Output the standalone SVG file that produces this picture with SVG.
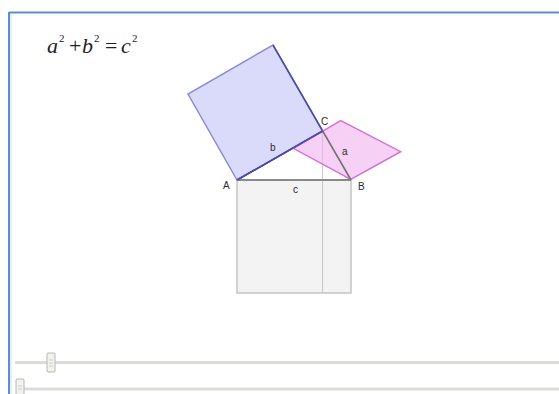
<svg xmlns="http://www.w3.org/2000/svg" width="559" height="394" viewBox="0 0 559 394">
<style>
.lbl{font-family:"Liberation Sans",Arial,sans-serif;font-size:10px;fill:#2a2a2a}
.eq{font-family:"Liberation Serif","Times New Roman",serif;font-style:italic;font-size:22px;fill:#222}
.sup{font-family:"Liberation Serif","Times New Roman",serif;font-size:11px;fill:#222}
.op{font-family:"Liberation Serif","Times New Roman",serif;font-size:22px;fill:#222}
.track{stroke:#dcdcd6;stroke-width:3}
.knob{fill:#f2f2ee;stroke:#b8b8b2;stroke-width:1}
</style>
<rect width="559" height="394" fill="#fff"/>
<g id="frame">
<line x1="9" y1="12.5" x2="559" y2="12.5" stroke="#5b8fd0" stroke-width="2"/>
<line x1="9" y1="12" x2="9" y2="394" stroke="#5b8fd0" stroke-width="2"/>
<line x1="11" y1="14" x2="11" y2="394" stroke="#cfe0f3" stroke-width="1"/>
</g>
<g id="formula">
<text class="eq" x="47" y="53">a</text>
<text class="sup" x="59" y="42">2</text>
<text class="op" x="69" y="53">+</text>
<text class="eq" x="82" y="53">b</text>
<text class="sup" x="94" y="42">2</text>
<text class="op" x="105" y="53">=</text>
<text class="eq" x="121" y="53">c</text>
<text class="sup" x="132" y="42">2</text>
</g>
<g id="square-c">
<rect x="237" y="180" width="114" height="113" fill="#f3f3f3" stroke="#c4c4c4" stroke-width="1.5"/>
<line x1="322.5" y1="130" x2="322.5" y2="293" stroke="#c8c8c8" stroke-width="1"/>
</g>
<g id="square-b">
<polygon points="237,180 322.7,131 273,45 188,94" fill="#d6d6fb" fill-opacity="0.9" stroke="#8c8cd4" stroke-width="1.5"/>
<polyline points="237,180 322.7,131 273,45" fill="none" stroke="#4a4aa8" stroke-width="1.5"/>
</g>
<g id="square-a">
<polygon points="293.3,148.3 340.7,120.7 400.7,151.7 350.7,179.3" fill="#f2b0f0" fill-opacity="0.6" stroke="#d472d4" stroke-width="1.5"/>
</g>
<g id="connectors">
<line x1="237" y1="180" x2="351" y2="180" stroke="#8a8a8a" stroke-width="2"/>
<line x1="322.7" y1="131" x2="351" y2="180" stroke="#707070" stroke-width="1.5"/>
<line x1="237" y1="180" x2="322.7" y2="131" stroke="#4a4aa8" stroke-width="1.5"/>
</g>
<g id="labels">
<text class="lbl" x="321" y="125">C</text>
<text class="lbl" x="270" y="151">b</text>
<text class="lbl" x="342" y="155">a</text>
<text class="lbl" x="223" y="189">A</text>
<text class="lbl" x="358" y="190">B</text>
<text class="lbl" x="293" y="193">c</text>
</g>
<g id="slider1">
<line class="track" x1="15" y1="362.5" x2="559" y2="362.5"/>
<rect class="knob" x="47" y="353" width="8" height="19" rx="1"/>
<line x1="49" y1="360" x2="53" y2="360" stroke="#ccc"/><line x1="49" y1="363" x2="53" y2="363" stroke="#ccc"/><line x1="49" y1="366" x2="53" y2="366" stroke="#ccc"/>
</g>
<g id="slider2">
<line class="track" x1="16" y1="389" x2="559" y2="389"/>
<rect class="knob" x="16" y="379" width="8" height="19" rx="1"/>
<line x1="18" y1="386" x2="22" y2="386" stroke="#ccc"/><line x1="18" y1="389" x2="22" y2="389" stroke="#ccc"/>
</g>
</svg>
